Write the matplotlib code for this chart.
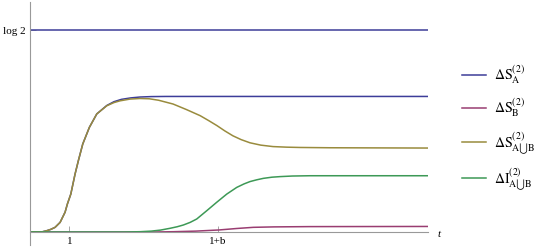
import numpy as np
import matplotlib
matplotlib.use("Agg")
import matplotlib.pyplot as plt

plt.rcParams['font.family'] = ['Liberation Serif', 'DejaVu Serif']
plt.rcParams['mathtext.fontset'] = 'stix'

# data
LOG2 = np.log(2)
x_range = [-0.06, 10.65]

t_SA = [-0.06, 0.25, 0.392, 0.50, 0.615, 0.75, 0.884, 0.946, 1.038, 1.153, 1.242, 1.36, 1.538,
        1.737, 2.006, 2.20, 2.40, 2.65, 2.90, 3.20, 3.60, 10.65]
SA = [0, 0, 0.0045, 0.009, 0.016, 0.033, 0.068, 0.096, 0.130, 0.199, 0.245, 0.302, 0.359,
      0.405, 0.434, 0.447, 0.455, 0.460, 0.463, 0.4645, 0.465, 0.465]

t_SB = [-0.06, 3.3, 3.8, 4.4, 5.03, 5.5, 5.95, 6.5, 7.47, 10.65]
SB = [0, 0, 0.001, 0.003, 0.007, 0.012, 0.016, 0.0175, 0.0185, 0.019]

t_SAB = [-0.06, 0.25, 0.392, 0.50, 0.615, 0.75, 0.884, 0.946, 1.038, 1.153, 1.242, 1.36, 1.538,
         1.737, 2.006, 2.20, 2.364, 2.633, 2.90, 3.15, 3.40, 3.79, 4.15, 4.52, 4.75, 4.97, 5.18, 5.40,
         5.62, 5.86, 6.15, 6.48, 6.85, 7.20, 8.00, 10.65]
SAB = [0, 0, 0.0045, 0.009, 0.016, 0.033, 0.068, 0.096, 0.130, 0.199, 0.245, 0.302, 0.359,
       0.405, 0.433, 0.444, 0.450, 0.456, 0.458, 0.457, 0.452, 0.439, 0.420, 0.399, 0.382, 0.365, 0.347, 0.330,
       0.317, 0.306, 0.298, 0.293, 0.291, 0.290, 0.289, 0.288]

t_I = [-0.06, 2.5, 2.9, 3.2, 3.45, 3.709, 3.9, 4.067, 4.25, 4.427, 4.696, 4.965, 5.234, 5.503, 5.70, 5.861,
       6.04, 6.219, 6.45, 6.67, 7.0, 7.475, 10.65]
I = [0, 0, 0.001, 0.003, 0.0065, 0.0127, 0.018, 0.024, 0.033, 0.0446, 0.073, 0.102, 0.130, 0.153, 0.165, 0.173,
     0.179, 0.184, 0.188, 0.190, 0.192, 0.193, 0.193]

labels = [r'$\Delta\mathrm{S}_{\mathrm{A}}^{(2)}$', r'$\Delta\mathrm{S}_{\mathrm{B}}^{(2)}$',
          r'$\Delta\mathrm{S}_{\mathrm{A}\bigcup\mathrm{B}}^{(2)}$', r'$\Delta\mathrm{I}_{\mathrm{A}\bigcup\mathrm{B}}^{(2)}$']
colors = [(0.24, 0.24, 0.6), (0.6, 0.24, 0.4428), (0.6, 0.547, 0.24), (0.24, 0.6, 0.33692)]

xticks = [1, 5]
xticklabels = ['1', '1+b']

fig = plt.figure(figsize=(5.45, 2.51), dpi=100)
ax = fig.add_axes([30/545, 5/251, 398/545, 243/251])

lw = 1.1
ax.plot(x_range, [LOG2, LOG2], color=colors[0], lw=lw)
handles = []
for tt, vv, c, lab in zip([t_SA, t_SB, t_SAB, t_I], [SA, SB, SAB, I], colors, labels):
    h, = ax.plot(tt, vv, color=c, lw=lw, label=lab)
    handles.append(h)

ax.set_xlim(x_range)
ax.set_ylim(-0.0446, 0.789)

gray = (0.6, 0.6, 0.6)
for s in ['top', 'right']:
    ax.spines[s].set_visible(False)
ax.spines['bottom'].set_position(('data', 0))
ax.spines['bottom'].set_color(gray)
ax.spines['left'].set_color(gray)
ax.spines['bottom'].set_linewidth(0.8)
ax.spines['left'].set_linewidth(0.8)

ax.set_xticks(xticks)
ax.set_xticklabels(xticklabels)
ax.set_yticks([LOG2])
ax.set_yticklabels(['log 2'])
ax.tick_params(direction='in', length=4, color=gray, width=0.6, labelsize=8, pad=3)

ax.text(1.025, -0.004, 't', transform=ax.get_yaxis_transform(), style='italic', fontsize=8,
        va='center', ha='left')

fig.legend(handles=handles, loc='center left', bbox_to_anchor=(449/545, 1 - 128/251),
           frameon=False, fontsize=10, handlelength=1.75, handletextpad=0.6, labelspacing=0.75)

fig.savefig('out.png', dpi=100)
